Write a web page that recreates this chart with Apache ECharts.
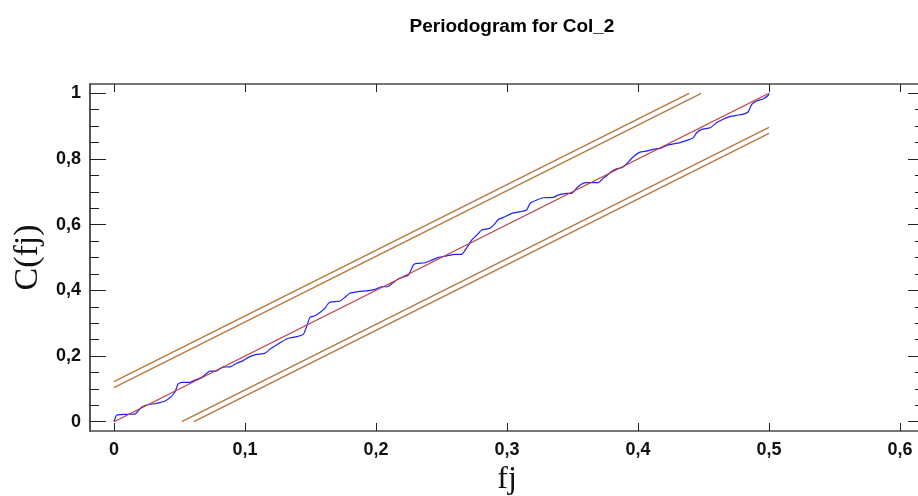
<!DOCTYPE html>
<html>
<head>
<meta charset="utf-8">
<title>Periodogram for Col_2</title>
<script src="https://cdn.jsdelivr.net/npm/echarts@6/dist/echarts.min.js"></script>
<style>
  html, body { margin: 0; padding: 0; background: #fff; }
  #chart { width: 918px; height: 496px; }
</style>
</head>
<body>
<div id="chart"></div>
<script>
// cumulative periodogram
var fj = [0, 0.002, 0.0084, 0.016, 0.0178, 0.0211, 0.025, 0.0326, 0.039, 0.044, 0.0466, 0.049, 0.0517, 0.058, 0.062,
  0.067, 0.0707, 0.073, 0.078, 0.083, 0.0885, 0.0937, 0.0987, 0.1025, 0.109, 0.115, 0.120, 0.124, 0.128, 0.133,
  0.1395, 0.1445, 0.147, 0.1496, 0.153, 0.157, 0.161, 0.1636, 0.166, 0.1725, 0.1763, 0.180, 0.1865, 0.194, 0.199,
  0.204, 0.209, 0.213, 0.218, 0.2247, 0.2285, 0.231, 0.2374, 0.2425, 0.2476, 0.254, 0.260, 0.2654, 0.269, 0.273,
  0.277, 0.2807, 0.287, 0.291, 0.2934, 0.2985, 0.3036, 0.310, 0.315, 0.3176, 0.3227, 0.3277, 0.3353, 0.339, 0.3456,
  0.3494, 0.353, 0.357, 0.361, 0.3697, 0.3735, 0.377, 0.380, 0.3837, 0.3875, 0.391, 0.3964, 0.4015, 0.4066, 0.4117,
  0.4168, 0.4219, 0.4257, 0.432, 0.4384, 0.4422, 0.4448, 0.4486, 0.455, 0.460, 0.465, 0.470, 0.475, 0.480, 0.484,
  0.4868, 0.4906, 0.4957, 0.4995, 0.5];
var cfj = [0, 0.020, 0.0225, 0.023, 0.030, 0.044, 0.051, 0.056, 0.063, 0.078, 0.091, 0.115, 0.120, 0.120, 0.127,
  0.135, 0.147, 0.154, 0.154, 0.166, 0.167, 0.178, 0.186, 0.196, 0.205, 0.208, 0.2235, 0.2335, 0.2436, 0.254,
  0.259, 0.266, 0.289, 0.318, 0.322, 0.332, 0.345, 0.3605, 0.365, 0.3675, 0.379, 0.391, 0.396, 0.399, 0.403,
  0.411, 0.411, 0.423, 0.4366, 0.4467, 0.477, 0.482, 0.484, 0.492, 0.5006, 0.505, 0.5097, 0.5097, 0.528, 0.553,
  0.5685, 0.5837, 0.589, 0.604, 0.616, 0.624, 0.6345, 0.6395, 0.6446, 0.665, 0.675, 0.682, 0.683, 0.690, 0.6955,
  0.6955, 0.7107, 0.724, 0.728, 0.728, 0.741, 0.752, 0.763, 0.770, 0.7735, 0.784, 0.807, 0.821, 0.824, 0.8295,
  0.8325, 0.8416, 0.8447, 0.8496, 0.858, 0.865, 0.880, 0.890, 0.895, 0.910, 0.921, 0.929, 0.933, 0.936, 0.943,
  0.9665, 0.9766, 0.9835, 0.994, 1.0];

// white-noise reference line and the two pairs of bounds around it
var refLine = [[0, 0], [0.5, 1]];
var boundOffsets = [0.1035, 0.122];

var xTicks = [0, 0.1, 0.2, 0.3, 0.4, 0.5, 0.6];
var yTicks = [0, 0.2, 0.4, 0.6, 0.8, 1];
var yMinor = [0.05, 0.1, 0.15, 0.25, 0.3, 0.35, 0.45, 0.5, 0.55, 0.65, 0.7, 0.75, 0.85, 0.9, 0.95];

var frameColor = '#4a4a4a';
var tickColor = '#222';
var brown = '#b8773f';

function fmt(v) {
  var r = Math.round(v * 10) / 10;
  return String(r).replace('.', ',');
}

var blueData = fj.map(function (x, i) { return [x, cfj[i]]; });

var boundSeries = [];
boundOffsets.forEach(function (d) {
  // upper: from fj=0 until C reaches 1
  boundSeries.push([[0, d], [(1 - d) / 2, 1]]);
  // lower: from where C=0 to fj=0.5
  boundSeries.push([[d / 2, 0], [0.5, 1 - d]]);
});

var chart = echarts.init(document.getElementById('chart'));

var labelStyle = {
  fontFamily: 'Liberation Sans', fontWeight: 'bold', fontSize: 18, color: '#111'
};

function yAx(pos, ticks, len, labels) {
  return {
    type: 'value', position: pos, min: -0.0283, max: 1.0283,
    axisLine: { show: true, onZero: false, lineStyle: { color: frameColor, width: 1.5 } },
    axisTick: { show: true, inside: true, length: len, customValues: ticks,
      lineStyle: { color: tickColor, width: 1 } },
    axisLabel: labels ? Object.assign({ customValues: yTicks, formatter: fmt, margin: 9 }, labelStyle)
                      : { show: false },
    splitLine: { show: false }
  };
}

function xAx(pos) {
  return {
    type: 'value', position: pos, min: -0.0183, max: 0.6183,
    axisLine: { show: true, onZero: false, lineStyle: { color: frameColor, width: 1.5 } },
    axisTick: { show: true, inside: true, length: 8, customValues: xTicks,
      lineStyle: { color: tickColor, width: 1 } },
    axisLabel: { show: false },
    splitLine: { show: false }
  };
}

var ax = [yAx('left', yTicks, 16, true), yAx('left', yMinor, 9, false),
          yAx('right', yTicks, 16, false), yAx('right', yMinor, 9, false)];
ax[0].name = 'C(fj)';
ax[0].nameLocation = 'middle';
ax[0].nameRotate = 90;
ax[0].nameGap = 44;
ax[0].nameTextStyle = { fontFamily: 'Liberation Serif', fontSize: 34, color: '#111' };

var xa = [xAx('bottom'), xAx('top')];
xa[0].axisLabel = Object.assign({ customValues: xTicks, formatter: fmt, margin: 10 }, labelStyle);
xa[0].name = 'fj';
xa[0].nameLocation = 'middle';
xa[0].nameGap = 31;
xa[0].nameTextStyle = { fontFamily: 'Liberation Serif', fontSize: 32, color: '#111' };

var option = {
  animation: false,
  backgroundColor: '#fff',
  title: {
    text: 'Periodogram for Col_2', left: 507, top: 12, textAlign: 'center',
    textStyle: { fontFamily: 'Liberation Sans', fontWeight: 'bold', fontSize: 19, color: '#000' }
  },
  grid: { left: 90, right: -6, top: 84, bottom: 65, outerBoundsMode: 'none' },
  xAxis: xa,
  yAxis: ax,
  series: boundSeries.map(function (d) {
    return {
      type: 'line', data: d, showSymbol: false, silent: true,
      lineStyle: { color: brown, width: 1.4 }
    };
  }).concat([{
    type: 'line', data: blueData, showSymbol: false, smooth: 0.15, silent: true,
    lineStyle: { color: '#1f1fff', width: 1.2 }
  }, {
    type: 'line', data: refLine, showSymbol: false, silent: true,
    lineStyle: { color: '#c23b3b', width: 1.2 }
  }])
};

chart.setOption(option);
</script>
</body>
</html>
